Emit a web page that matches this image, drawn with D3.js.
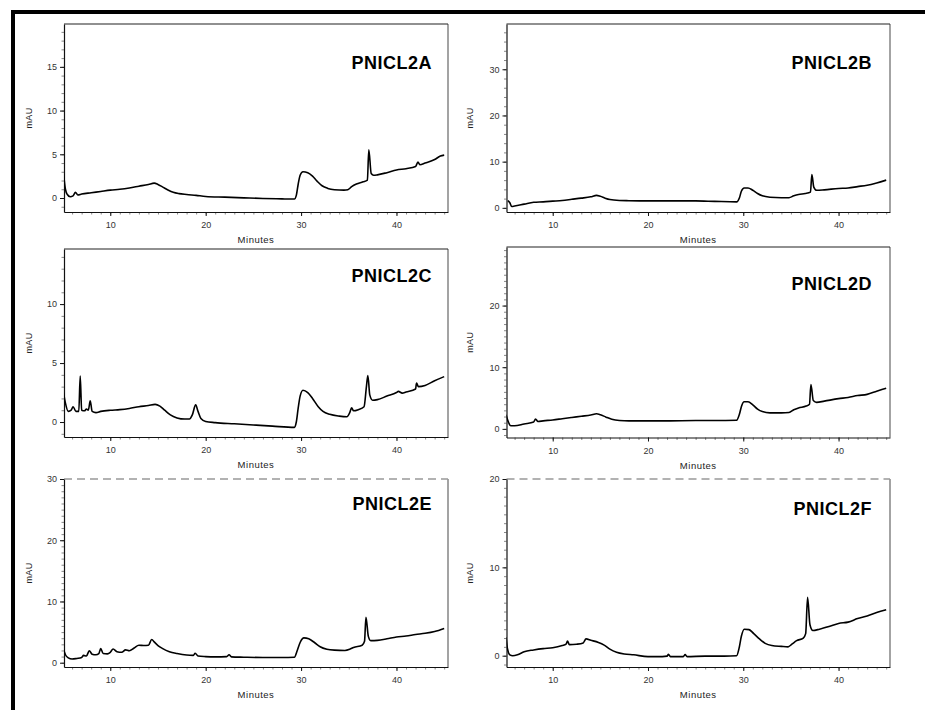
<!DOCTYPE html>
<html lang="en">
<head>
<meta charset="UTF-8">
<title>PNICL2 chromatograms</title>
<style>
  html, body { padding:0; margin:0; background:#fff; }
  svg { display:block; font-family: Arial, "Liberation Sans", Helvetica, sans-serif; }
  .tick text { font-size: 9px; fill: #333; }
</style>
</head>
<body>
<script src="https://cdn.jsdelivr.net/npm/d3@7/dist/d3.min.js"></script>
<script>
var width = 925, height = 710;

// data: [minutes, mAU]
var titles = ['PNICL2A', 'PNICL2B', 'PNICL2C', 'PNICL2D', 'PNICL2E', 'PNICL2F'];
var minuteTicks = [10, 20, 30, 40];
var minuteDomain = [5.15, 45.4];

var yTicksA = [0, 5, 10, 15],  yDomainA = [-1.6, 19.9];
var yTicksB = [0, 10, 20, 30], yDomainB = [-0.9, 39.8];
var yTicksC = [0, 5, 10],      yDomainC = [-1.27, 14.67];
var yTicksD = [0, 10, 20],     yDomainD = [-1.4, 29.5];
var yTicksE = [0, 10, 20, 30], yDomainE = [-0.7, 30];
var yTicksF = [0, 10, 20],     yDomainF = [-1.28, 20];

var traceA = [[5.1,2.8],[5.3,1.0],[5.5,0.4],[5.8,0.15],[6.1,0.25],[6.35,0.65],[6.6,0.35],[7,0.45],[8,0.6],[9,0.75],[10,0.9],[11,1.0],[12,1.15],[13,1.35],[14,1.55],[14.6,1.7],[15,1.55],[15.5,1.25],[16,0.95],[16.6,0.65],[17.2,0.5],[18,0.4],[19,0.3],[20,0.18],[22,0.1],[24,0.02],[26,-0.05],[28,-0.1],[29.3,-0.12],[29.5,0.3],[29.7,1.6],[29.9,2.6],[30.2,3.0],[30.7,2.9],[31.2,2.5],[31.7,1.9],[32.2,1.4],[32.8,1.1],[33.5,0.95],[34.5,0.9],[34.9,0.95],[35.3,1.3],[35.8,1.6],[36.5,1.85],[36.95,2.05],[37.1,5.5],[37.35,2.8],[37.6,2.6],[38,2.65],[39,2.9],[40,3.2],[41,3.35],[42,3.6],[42.25,4.1],[42.45,3.8],[43,4.0],[44,4.4],[44.6,4.8],[45,4.9]];

var traceB = [[5.3,1.6],[5.5,1.1],[5.7,0.3],[6,0.4],[7,0.8],[8,1.2],[9,1.3],[10,1.45],[11,1.6],[12,1.85],[13,2.1],[14,2.4],[14.6,2.7],[15,2.5],[15.5,2.1],[16,1.8],[17,1.6],[18,1.55],[20,1.5],[22,1.5],[25,1.5],[27,1.4],[29.3,1.3],[29.6,2.2],[29.8,3.6],[30.1,4.3],[30.5,4.3],[31,3.8],[31.5,3.1],[32,2.6],[32.8,2.3],[34,2.2],[34.8,2.2],[35.3,2.6],[35.8,2.9],[36.5,3.1],[37.05,3.4],[37.2,7.2],[37.4,4.5],[37.7,3.8],[38.5,3.9],[40,4.2],[41,4.3],[42,4.6],[43,4.9],[44,5.4],[45,6.0]];

var traceC = [[5.1,2.5],[5.3,1.6],[5.6,0.9],[5.9,1.0],[6.1,1.3],[6.4,0.9],[6.7,0.9],[6.85,3.9],[7.0,1.0],[7.3,0.95],[7.5,1.1],[7.7,1.0],[7.9,1.8],[8.1,0.9],[8.5,0.8],[9,0.9],[10,1.0],[11,1.05],[12,1.15],[13,1.3],[14,1.4],[14.7,1.5],[15.2,1.35],[15.7,1.0],[16.3,0.6],[17,0.35],[17.8,0.25],[18.3,0.25],[18.6,0.6],[18.95,1.45],[19.2,0.9],[19.5,0.3],[20,0.05],[21,-0.05],[23,-0.15],[25,-0.25],[27,-0.35],[29.3,-0.45],[29.5,0],[29.7,1.2],[29.9,2.2],[30.2,2.7],[30.7,2.5],[31.2,2.0],[31.8,1.3],[32.3,0.9],[33,0.65],[34,0.5],[34.8,0.45],[35.1,0.8],[35.3,1.2],[35.5,0.95],[36,1.05],[36.6,1.3],[36.85,3.0],[37.0,3.95],[37.2,2.3],[37.5,1.85],[38,1.9],[39,2.2],[40,2.5],[40.2,2.6],[40.6,2.45],[41,2.55],[42,2.8],[42.1,3.3],[42.3,3.0],[43,3.1],[44,3.5],[45,3.85]];

var traceD = [[5.1,2.3],[5.3,1.3],[5.6,0.5],[6,0.5],[7,0.8],[8,1.1],[8.2,1.6],[8.45,1.2],[9,1.3],[10,1.45],[11,1.65],[12,1.85],[13,2.05],[14,2.25],[14.6,2.45],[15,2.3],[15.6,1.9],[16.2,1.55],[17,1.35],[18,1.3],[20,1.3],[22,1.3],[25,1.35],[27,1.35],[29.3,1.4],[29.6,2.4],[29.8,3.6],[30.1,4.4],[30.5,4.4],[31,3.9],[31.5,3.2],[32,2.8],[32.8,2.6],[34,2.6],[34.8,2.65],[35.3,3.1],[35.8,3.4],[36.6,3.7],[36.95,4.0],[37.1,7.2],[37.35,4.6],[37.7,4.3],[38.5,4.5],[40,4.9],[41,5.1],[42,5.4],[43,5.6],[44,6.1],[45,6.6]];

var traceE = [[5.1,2.2],[5.3,1.3],[5.6,0.8],[6,0.6],[6.5,0.7],[7,0.85],[7.2,1.2],[7.5,1.1],[7.8,1.95],[8.1,1.4],[8.5,1.3],[8.8,1.5],[9.0,2.3],[9.25,1.5],[9.7,1.45],[10.0,1.7],[10.3,2.25],[10.7,1.8],[11.2,1.7],[11.6,2.1],[12,1.95],[12.5,2.4],[13,2.85],[13.5,2.8],[14,2.85],[14.35,3.8],[14.6,3.4],[15,2.8],[15.5,2.3],[16.2,1.8],[17,1.5],[18,1.25],[18.7,1.2],[18.9,1.55],[19.2,1.1],[20,1.0],[21,0.95],[22.2,1.0],[22.45,1.3],[22.7,0.95],[24,0.9],[26,0.85],[28,0.85],[29.3,0.9],[29.6,2.0],[29.9,3.3],[30.3,4.05],[30.8,3.9],[31.4,3.3],[32,2.6],[32.7,2.2],[33.5,2.05],[34.6,2.0],[35.1,2.2],[35.5,2.5],[36.4,2.85],[36.65,3.5],[36.8,7.4],[37.05,4.3],[37.3,3.6],[38,3.65],[39,3.9],[40,4.2],[41,4.35],[42,4.6],[43,4.8],[44,5.1],[45,5.6]];

var traceF = [[5.1,2.1],[5.25,0.8],[5.5,0.1],[5.8,0.0],[6.3,0.1],[7,0.45],[8,0.65],[9,0.8],[10,0.9],[11,1.15],[11.4,1.3],[11.55,1.65],[11.75,1.25],[12.5,1.3],[13.2,1.45],[13.5,1.9],[14,1.75],[14.8,1.5],[15.4,1.2],[16,0.75],[16.7,0.4],[17.5,0.2],[18.5,0.1],[20,-0.1],[21.5,-0.1],[22,-0.05],[22.15,0.15],[22.35,-0.1],[23.7,-0.1],[23.9,0.12],[24.1,-0.1],[26,-0.05],[28,-0.05],[29.3,0.0],[29.55,0.8],[29.8,2.2],[30.1,3.0],[30.6,2.95],[31.1,2.5],[31.7,1.9],[32.3,1.4],[33,1.15],[34,1.05],[34.7,1.0],[35.1,1.3],[35.6,1.7],[36.3,2.0],[36.55,2.5],[36.75,6.6],[37.0,3.5],[37.3,2.85],[38,3.0],[39,3.3],[40,3.65],[41,3.8],[42,4.2],[43,4.5],[44,4.9],[45,5.2]];

var traces  = [traceA, traceB, traceC, traceD, traceE, traceF];
var yTicks  = [yTicksA, yTicksB, yTicksC, yTicksD, yTicksE, yTicksF];
var yDomains = [yDomainA, yDomainB, yDomainC, yDomainD, yDomainE, yDomainF];
var yMinorStep = [1, 2, 1, 1, 1, 1];

// layout of the six boxes
var colX = [[64, 448], [506.5, 890]];
var boxes = [
    {col: 0, y0: 24,  y1: 212,   titleY: 68.5,  dashTop: false},
    {col: 1, y0: 24,  y1: 212,   titleY: 68.5,  dashTop: false},
    {col: 0, y0: 249, y1: 437,   titleY: 281.5, dashTop: false},
    {col: 1, y0: 247, y1: 437.5, titleY: 290,   dashTop: false},
    {col: 0, y0: 479, y1: 667,   titleY: 509.5, dashTop: true},
    {col: 1, y0: 479, y1: 667,   titleY: 515,   dashTop: true}
];
var titleRight = [432, 872];
var mauX = [29, 470];

var svg = d3.select('body').append('svg')
    .attr('width', width)
    .attr('height', height);

// thick outer frame (left and top only)
svg.append('rect').attr('x', 11).attr('y', 10).attr('width', 4).attr('height', height - 10).attr('fill', '#000');
svg.append('rect').attr('x', 11).attr('y', 10).attr('width', width - 11).attr('height', 4).attr('fill', '#000');

boxes.forEach(function(b, i) {
    var x0 = colX[b.col][0], x1 = colX[b.col][1];
    var x = d3.scaleLinear().domain(minuteDomain).range([x0, x1]);
    var y = d3.scaleLinear().domain(yDomains[i]).range([b.y1, b.y0]);
    var g = svg.append('g');

    g.append('clipPath').attr('id', 'clip' + i)
      .append('rect').attr('x', x0).attr('y', b.y0).attr('width', x1 - x0).attr('height', b.y1 - b.y0);

    // box: right and top edges
    g.append('line').attr('x1', x1).attr('x2', x1).attr('y1', b.y0).attr('y2', b.y1)
      .attr('stroke', '#666').attr('stroke-width', 1.2);
    g.append('line').attr('x1', x0).attr('x2', x1).attr('y1', b.y0).attr('y2', b.y0)
      .attr('stroke', b.dashTop ? '#999' : '#222')
      .attr('stroke-width', b.dashTop ? 1.6 : 1.2)
      .attr('stroke-dasharray', b.dashTop ? '8,5' : null);

    // minor ticks
    var xMinor = g.append('g').attr('transform', 'translate(0,' + b.y1 + ')')
      .call(d3.axisBottom(x).tickValues(d3.range(6, 46)).tickSize(2.5).tickFormat(''));
    xMinor.select('.domain').remove();
    xMinor.selectAll('line').attr('stroke', '#888');

    var yd = yDomains[i];
    var yMinor = g.append('g').attr('transform', 'translate(' + x0 + ',0)')
      .call(d3.axisLeft(y).tickValues(d3.range(Math.ceil(yd[0]), yd[1] + 0.001, yMinorStep[i])).tickSize(2.5).tickFormat(''));
    yMinor.select('.domain').remove();
    yMinor.selectAll('line').attr('stroke', '#888');

    // major axes
    var xAxis = g.append('g').attr('transform', 'translate(0,' + b.y1 + ')')
      .call(d3.axisBottom(x).tickValues(minuteTicks).tickSize(4).tickPadding(6).tickSizeOuter(0));
    xAxis.select('.domain').attr('stroke', '#111').attr('stroke-width', 1.2);
    xAxis.selectAll('.tick line').attr('stroke', '#111');

    var yAxis = g.append('g').attr('transform', 'translate(' + x0 + ',0)')
      .call(d3.axisLeft(y).tickValues(yTicks[i]).tickSize(4).tickPadding(3).tickSizeOuter(0));
    yAxis.select('.domain').attr('stroke', '#111').attr('stroke-width', 1.2);
    yAxis.selectAll('.tick line').attr('stroke', '#111');

    // trace
    var line = d3.line()
        .x(function(d) { return x(d[0]); })
        .y(function(d) { return y(d[1]); })
        .curve(d3.curveMonotoneX);
    g.append('path')
      .datum(traces[i])
      .attr('clip-path', 'url(#clip' + i + ')')
      .attr('fill', 'none')
      .attr('stroke', '#000')
      .attr('stroke-width', 1.6)
      .attr('stroke-linejoin', 'round')
      .attr('d', line);

    // labels
    g.append('text')
      .attr('x', titleRight[b.col]).attr('y', b.titleY)
      .attr('text-anchor', 'end')
      .style('font-size', '18px').style('font-weight', 'bold').style('letter-spacing', '0.5px')
      .text(titles[i]);

    g.append('text')
      .attr('x', (x0 + x1) / 2).attr('y', b.y1 + 31)
      .attr('text-anchor', 'middle')
      .style('font-size', '9.5px').style('letter-spacing', '0.5px').attr('fill', '#222')
      .text('Minutes');

    g.append('text')
      .attr('transform', 'translate(' + (mauX[b.col] + 3) + ',' + ((b.y0 + b.y1) / 2) + ') rotate(-90)')
      .attr('text-anchor', 'middle')
      .style('font-size', '9px').style('letter-spacing', '0.4px').attr('fill', '#222')
      .text('mAU');
});
</script>
</body>
</html>
